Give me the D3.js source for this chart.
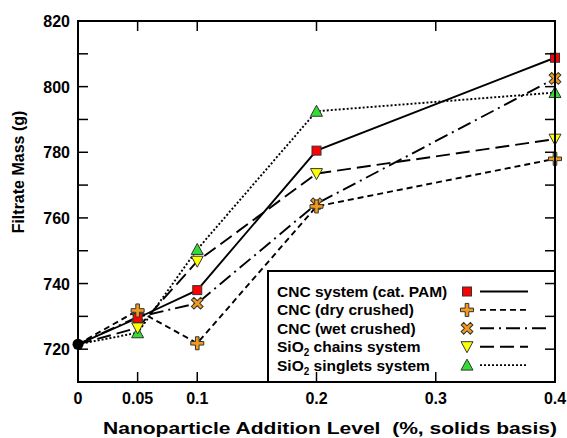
<!DOCTYPE html>
<html>
<head>
<meta charset="utf-8">
<script src="https://cdn.jsdelivr.net/npm/d3@7"></script>
<style>
  body { margin: 0; background: #fff; }
  text { font-family: "Liberation Sans", Arial, sans-serif; font-weight: bold; fill: #000; }
</style>
</head>
<body>
<script>
// data
var levels = [0, 0.05, 0.1, 0.2, 0.4];
var pamMass = [721.5, 729.5, 738, 780.5, 808.8];
var dryMass = [721.5, 731.8, 721.8, 763.5, 778];
var wetMass = [721.5, 729.8, 734, 764.3, 802.5];
var chainsMass = [721.5, 726.5, 746.8, 773.5, 784];
var singletsMass = [721.5, 725, 750.4, 792.5, 798.2];
var xTicks = [0, 0.05, 0.1, 0.2, 0.3, 0.4];
var yTicks = [720, 740, 760, 780, 800, 820];
var yMinor = [710, 730, 750, 770, 790, 810];

var series = [
    {name: "CNC system (cat. PAM)", values: pamMass, symbol: "square", fill: "#ff0000", dash: null},
    {name: "CNC (dry crushed)", values: dryMass, symbol: "plus", fill: "#f39a1e", dash: "6,4"},
    {name: "CNC (wet crushed)", values: wetMass, symbol: "cross", fill: "#f39a1e", dash: "14,5,2,5"},
    {name: "SiO|2| chains system", values: chainsMass, symbol: "down", fill: "#ffff00", dash: "14,6"},
    {name: "SiO|2| singlets system", values: singletsMass, symbol: "up", fill: "#33dd33", dash: "2,2"}
];

//Define Margin
var margin = {left: 78, right: 12, top: 21, bottom: 56},
    width = 567 - margin.left - margin.right,
    height = 438 - margin.top - margin.bottom;

var svg = d3.select("body").append("svg")
    .attr("width", 567)
    .attr("height", 438)
    .append("g")
    .attr("transform", "translate(" + margin.left + "," + margin.top + ")");

var x = d3.scaleLinear().domain([0, 0.4]).range([0, width]);
var y = d3.scaleLinear().domain([710, 820]).range([height, 0]);

// lines
var line = d3.line()
    .x(function(d, i) { return x(levels[i]); })
    .y(function(d) { return y(d); });

series.forEach(function(s) {
    svg.append("path")
        .attr("d", line(s.values))
        .attr("fill", "none")
        .attr("stroke", "#000")
        .attr("stroke-width", 1.9)
        .attr("stroke-dasharray", s.dash);
});

// marker shapes
function drawMarker(g, sym, fill, cx, cy) {
    var m = g.append("g").attr("transform", "translate(" + cx + "," + cy + ")");
    var st = "#333", sw = 1;
    if (sym === "square") {
        m.append("rect").attr("x", -4.5).attr("y", -4.5).attr("width", 9).attr("height", 9)
            .attr("fill", fill).attr("stroke", st).attr("stroke-width", sw);
    } else if (sym === "plus" || sym === "cross") {
        var a = 6.5, t = 1.8;
        var pts = [[-t,-a],[t,-a],[t,-t],[a,-t],[a,t],[t,t],[t,a],[-t,a],[-t,t],[-a,t],[-a,-t],[-t,-t]];
        m.append("polygon").attr("points", pts.map(function(p) { return p.join(","); }).join(" "))
            .attr("fill", fill).attr("stroke", st).attr("stroke-width", sw)
            .attr("transform", sym === "cross" ? "rotate(45)" : null);
    } else if (sym === "down") {
        m.append("path").attr("d", "M-6,-5L6,-5L0,6Z")
            .attr("fill", fill).attr("stroke", st).attr("stroke-width", sw);
    } else if (sym === "up") {
        m.append("path").attr("d", "M-6,5L6,5L0,-6Z")
            .attr("fill", fill).attr("stroke", st).attr("stroke-width", sw);
    }
}

// markers (start point shared, drawn as black dot)
var order = [4, 3, 2, 0, 1];
order.forEach(function(k) {
    var s = series[k];
    s.values.forEach(function(v, i) {
        if (i === 0) return;
        drawMarker(svg, s.symbol, s.fill, x(levels[i]), y(v));
    });
});
svg.append("circle")
    .attr("cx", x(levels[0])).attr("cy", y(pamMass[0])).attr("r", 5.5)
    .attr("fill", "#000");

// legend box
var lg = svg.append("g");
lg.append("rect")
    .attr("x", 190).attr("y", 250)
    .attr("width", width - 190).attr("height", height - 250)
    .attr("fill", "#fff").attr("stroke", "#000").attr("stroke-width", 2);

series.forEach(function(s, i) {
    var ly = 270.5 + i * 18.4;
    var parts = s.name.split("|");
    var t = lg.append("text").attr("x", 199).attr("y", ly + 5.5).style("font-size", "15.5px");
    t.append("tspan").text(parts[0]);
    if (parts.length > 1) {
        t.append("tspan").text(parts[1]).style("font-size", "10px").attr("dy", 4);
        t.append("tspan").text(parts[2]).attr("dy", -4);
    }
    lg.append("line")
        .attr("x1", 402).attr("x2", s.symbol === "cross" ? 473 : 450)
        .attr("y1", ly).attr("y2", ly)
        .attr("stroke", "#000").attr("stroke-width", 1.9)
        .attr("stroke-dasharray", s.dash);
    drawMarker(lg, s.symbol, s.fill, 389, ly);
});

// ticks inward on all four sides
var tickLen = 10;
function ticks(vals, isX) {
    vals.forEach(function(v) {
        if (isX) {
            svg.append("line").attr("x1", x(v)).attr("x2", x(v)).attr("y1", height).attr("y2", height - tickLen)
                .attr("stroke", "#000").attr("stroke-width", 1.5);
            svg.append("line").attr("x1", x(v)).attr("x2", x(v)).attr("y1", 0).attr("y2", tickLen)
                .attr("stroke", "#000").attr("stroke-width", 1.5);
        } else {
            svg.append("line").attr("x1", 0).attr("x2", tickLen).attr("y1", y(v)).attr("y2", y(v))
                .attr("stroke", "#000").attr("stroke-width", 1.5);
            svg.append("line").attr("x1", width).attr("x2", width - tickLen).attr("y1", y(v)).attr("y2", y(v))
                .attr("stroke", "#000").attr("stroke-width", 1.5);
        }
    });
}
ticks(xTicks, true);
ticks(yTicks.concat(yMinor), false);

// frame
svg.append("rect")
    .attr("width", width).attr("height", height)
    .attr("fill", "none").attr("stroke", "#000").attr("stroke-width", 2);

// tick labels
svg.selectAll(".xl").data(xTicks).enter().append("text")
    .attr("x", function(d) { return x(d); })
    .attr("y", height + 22)
    .attr("text-anchor", "middle")
    .style("font-size", "16px")
    .text(function(d) { return d === 0 ? "0" : String(d); });

svg.selectAll(".yl").data(yTicks).enter().append("text")
    .attr("x", -8)
    .attr("y", function(d) { return y(d) + 6; })
    .attr("text-anchor", "end")
    .style("font-size", "16px")
    .text(function(d) { return d; });

// axis titles
svg.append("text")
    .attr("x", 103 - margin.left)
    .attr("y", 434 - margin.top)
    .style("font-size", "17px")
    .attr("textLength", 454)
    .attr("lengthAdjust", "spacingAndGlyphs")
    .attr("xml:space", "preserve")
    .text("Nanoparticle Addition Level  (%, solids basis)");

svg.append("text")
    .attr("transform", "translate(" + (24 - margin.left) + "," + (172 - margin.top) + ") rotate(-90)")
    .attr("text-anchor", "middle")
    .style("font-size", "16px")
    .text("Filtrate Mass (g)");
</script>
</body>
</html>
